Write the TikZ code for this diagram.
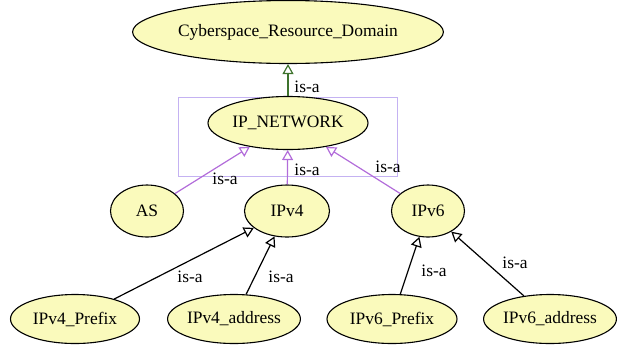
\documentclass[tikz,border=0pt]{standalone}
\usepackage{fontspec}
\setmainfont{Liberation Serif}
\newfontfamily\conceptfont{Liberation Serif}
\usepackage{xcolor}
\usetikzlibrary{shapes.geometric, arrows.meta, positioning}

\definecolor{nodefill}{RGB}{250,250,188}
\definecolor{isapurple}{RGB}{178,108,218}
\definecolor{boxpurple}{RGB}{196,178,242}
\definecolor{isagreen}{RGB}{62,115,45}

\begin{document}
\begin{tikzpicture}[x=1bp, y=-1bp,
  concept/.style={ellipse, draw=black, line width=1.1bp, fill=nodefill, inner sep=0pt,
    font=\conceptfont\fontsize{17.5}{20}\selectfont},
  isa/.style={line width=1.2bp, -{Triangle[open, length=10bp, width=11bp]}},
  lbl/.style={inner sep=0pt, font=\conceptfont\fontsize{17.5}{20}\selectfont}]
  \useasboundingbox (0,0) rectangle (624,349);

  % Cluster box
  \draw[boxpurple, line width=1bp] (178,97) rectangle (397,176);

  % Concepts
  \node[concept, minimum width=290bp, minimum height=63bp] (crd) at (288,32) {Cyberspace\_Resource\_Domain};
  \node[concept, minimum width=160bp, minimum height=53bp] (ipnet) at (288,123) {IP\_NETWORK};
  \node[concept, minimum width=73bp, minimum height=52bp] (as) at (147,211) {AS};
  \node[concept, minimum width=85bp, minimum height=52bp] (ipv4) at (287,211) {IPv4};
  \node[concept, minimum width=73bp, minimum height=52bp] (ipv6) at (428,211) {IPv6};
  \node[concept, minimum width=129bp, minimum height=49bp] (v4prefix) at (75,319) {IPv4\_Prefix};
  \node[concept, minimum width=128bp, minimum height=49bp] (v4addr) at (234,319) {IPv4\_address};
  \node[concept, minimum width=130bp, minimum height=49bp] (v6prefix) at (392,319) {IPv6\_Prefix};
  \node[concept, minimum width=130bp, minimum height=49bp] (v6addr) at (550,319) {IPv6\_address};

  % is-a links
  \draw[isa, isagreen] (ipnet) -- (crd);
  \draw[isa, isapurple] (as) -- (ipnet);
  \draw[isa, isapurple] (ipv4) -- (ipnet);
  \draw[isa, isapurple] (ipv6) -- (ipnet);
  \draw[isa] (v4prefix) -- (ipv4);
  \draw[isa] (v4addr) -- (ipv4);
  \draw[isa] (v6prefix) -- (ipv6);
  \draw[isa] (v6addr) -- (ipv6);

  % Labels
  \node[lbl] (l-ipnet) at (307,87) {is-a};
  \node[lbl] (l-as) at (225,179) {is-a};
  \node[lbl] (l-ipv4) at (307,170) {is-a};
  \node[lbl] (l-ipv6) at (388,167) {is-a};
  \node[lbl] (l-v4prefix) at (190,277) {is-a};
  \node[lbl] (l-v4addr) at (281,277) {is-a};
  \node[lbl] (l-v6prefix) at (434,271) {is-a};
  \node[lbl] (l-v6addr) at (515,263) {is-a};
\end{tikzpicture}
\end{document}
